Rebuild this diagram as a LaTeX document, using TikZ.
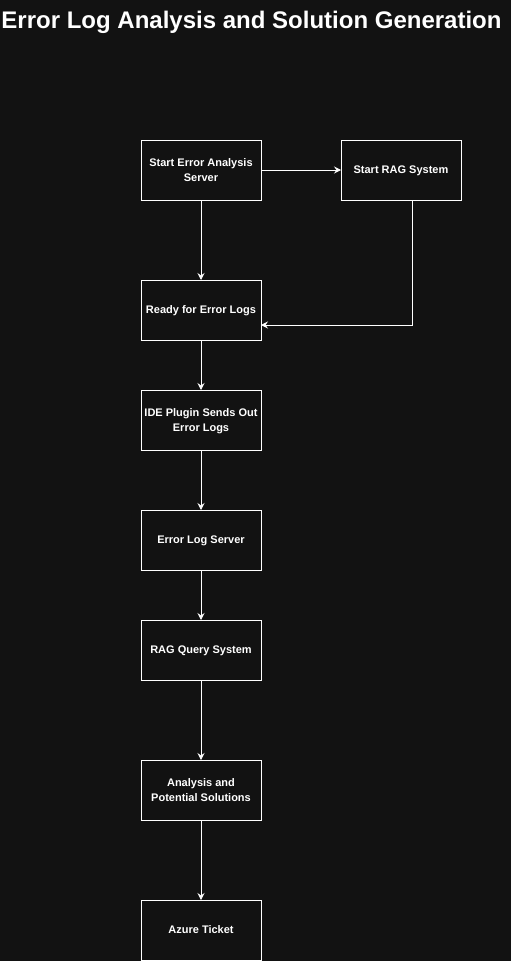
\documentclass[tikz,border=0pt]{standalone}
\usepackage{fontspec}
\setmainfont{Liberation Sans}
\usetikzlibrary{positioning, arrows.meta}
\definecolor{bgdark}{HTML}{121212}

\tikzset{stepbox/.style={draw=white, line width=1pt, fill=none, shape=rectangle, minimum width=120pt, minimum height=60pt, inner sep=2pt, outer sep=0pt, text depth=0pt, align=center, text=white, font=\fontsize{11}{14.5}\selectfont\bfseries}}

\begin{document}
\begin{tikzpicture}[->,>={Stealth[length=7pt,width=7pt,inset=2.5pt]}, line width=1pt, white, node distance=80pt]
  \fill[bgdark] (0,0) rectangle (511pt,-961pt);
  \useasboundingbox (0,0) rectangle (511pt,-961pt);
  \node[anchor=base, text=white, font=\fontsize{24}{28}\selectfont\bfseries] (title) at (251.5pt,-28pt) {Error Log Analysis and Solution Generation};

  \node[stepbox] (startsrv) at (201pt,-170pt) {Start Error Analysis\\Server};
  \node[stepbox, right=80pt of startsrv] (startrag) {Start RAG System};
  \node[stepbox, below=80pt of startsrv] (ready) {Ready for Error Logs};
  \node[stepbox, below=50pt of ready] (plugin) {IDE Plugin Sends Out\\Error Logs};
  \node[stepbox, below=60pt of plugin] (logsrv) {Error Log Server};
  \node[stepbox, below=50pt of logsrv] (ragquery) {RAG Query System};
  \node[stepbox, below=80pt of ragquery] (analysis) {Analysis and\\Potential Solutions};
  \node[stepbox, below=80pt of analysis] (ticket) {Azure Ticket};

  \draw (startsrv.east) -- (startrag.west);
  \draw (startsrv.south) -- (ready.north);
  \draw ([xshift=11pt]startrag.south) |- ([yshift=-15pt]ready.east);
  \draw (ready.south) -- (plugin.north);
  \draw (plugin.south) -- (logsrv.north);
  \draw (logsrv.south) -- (ragquery.north);
  \draw (ragquery.south) -- (analysis.north);
  \draw (analysis.south) -- (ticket.north);
\end{tikzpicture}
\end{document}
